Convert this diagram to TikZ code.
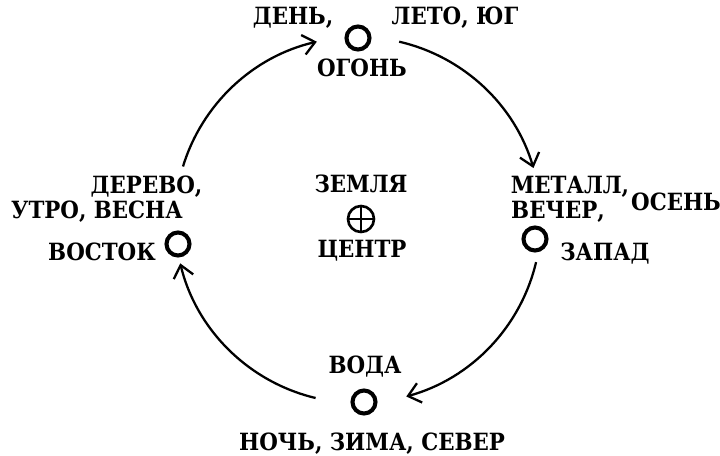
\documentclass[tikz,border=0pt]{standalone}
\usepackage{fontspec}
\setmainfont{DejaVu Serif Condensed}
\usetikzlibrary{positioning,arrows.meta}

\tikzset{
  word/.style={font=\fontsize{13.5}{15}\selectfont\bfseries, inner sep=0pt, anchor=base},
  elem/.style={circle, draw, line width=2.3pt, minimum size=0.46cm, inner sep=0pt},
  flow/.style={line width=1.3pt, -{Straight Barb[length=2.4mm,width=4mm]}},
}

\begin{document}
\begin{tikzpicture}
  \useasboundingbox (-7.16,-4.72) rectangle (7.24,4.4);
  \node[elem] (fire) at (0,3.64) {};
  \node[elem] (wood) at (-3.6,-0.48) {};
  \node[elem] (metal) at (3.54,-0.38) {};
  \node[elem] (water) at (0.12,-3.64) {};
  \node[elem, line width=1.5pt, minimum size=0.52cm] (earth) at (0.06,0.02) {};
  \draw[line width=1.5pt] (earth.north) -- (earth.south) (earth.west) -- (earth.east);

  \node[word] (day) at (-1.3,3.9) {ДЕНЬ,};
  \node[word] (summer) at (1.94,3.9) {ЛЕТО, ЮГ};
  \node[word] (firetxt) at (0.08,2.86) {ОГОНЬ};
  \node[word] (woodtxt) at (-4.23,0.54) {ДЕРЕВО,};
  \node[word] (spring) at (-5.22,0.04) {УТРО, ВЕСНА};
  \node[word] (east) at (-5.12,-0.8) {ВОСТОК};
  \node[word] (metaltxt) at (4.24,0.54) {МЕТАЛЛ,};
  \node[word] (evening) at (4.0,0.04) {ВЕЧЕР,};
  \node[word] (autumn) at (6.36,0.2) {ОСЕНЬ};
  \node[word] (west) at (4.94,-0.8) {ЗАПАД};
  \node[word] (watertxt) at (0.14,-3.06) {ВОДА};
  \node[word] (winter) at (0.28,-4.6) {НОЧЬ, ЗИМА, СЕВЕР};
  \node[word] (earthtxt) at (0.06,0.56) {ЗЕМЛЯ};
  \node[word] (centre) at (0.08,-0.76) {ЦЕНТР};

  \coordinate (wf) at (163:3.66);
  \coordinate (fm) at (77:3.66);
  \coordinate (mw) at (-13.3:3.66);
  \coordinate (ww) at (-103.4:3.66);
  \draw[flow] (wf) arc[start angle=163, end angle=103, radius=3.66];
  \draw[flow] (fm) arc[start angle=77, end angle=16.5, radius=3.66];
  \draw[flow] (mw) arc[start angle=-13.3, end angle=-74.7, radius=3.66];
  \draw[flow] (ww) arc[start angle=-103.4, end angle=-166.3, radius=3.66];
\end{tikzpicture}
\end{document}
